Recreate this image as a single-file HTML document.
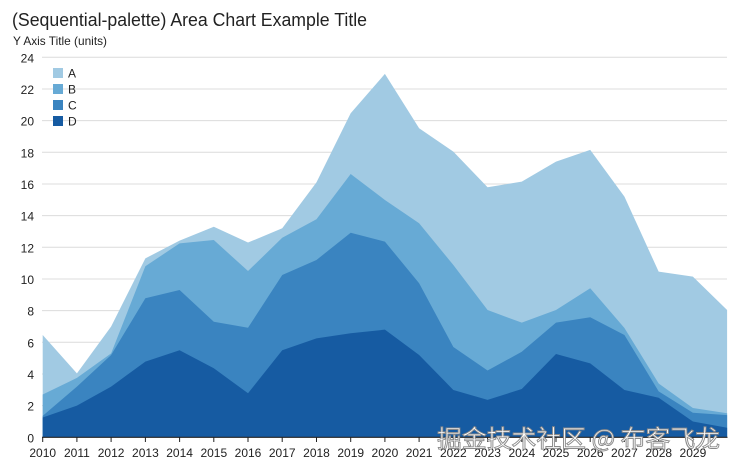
<!DOCTYPE html>
<html><head><meta charset="utf-8"><style>
html,body{margin:0;padding:0;background:#fff;}
svg{display:block;font-family:"Liberation Sans","Noto Sans CJK SC",sans-serif;}
</style></head><body>
<svg width="737" height="469" viewBox="0 0 737 469" xmlns="http://www.w3.org/2000/svg">
<rect width="737" height="469" fill="#fff"/>
<text x="12" y="26" font-size="18" fill="#222" textLength="355" lengthAdjust="spacingAndGlyphs">(Sequential-palette) Area Chart Example Title</text>
<text x="13" y="45" font-size="12" fill="#222" textLength="94" lengthAdjust="spacingAndGlyphs">Y Axis Title (units)</text>
<g stroke="#dcdcdc" stroke-width="1">
<line x1="42" x2="727" y1="57.3" y2="57.3"/>
<line x1="42" x2="727" y1="89" y2="89"/>
<line x1="42" x2="727" y1="120.6" y2="120.6"/>
<line x1="42" x2="727" y1="152.3" y2="152.3"/>
<line x1="42" x2="727" y1="184" y2="184"/>
<line x1="42" x2="727" y1="215.6" y2="215.6"/>
<line x1="42" x2="727" y1="247.3" y2="247.3"/>
<line x1="42" x2="727" y1="279" y2="279"/>
<line x1="42" x2="727" y1="310.6" y2="310.6"/>
<line x1="42" x2="727" y1="342.3" y2="342.3"/>
<line x1="42" x2="727" y1="374" y2="374"/>
<line x1="42" x2="727" y1="405.6" y2="405.6"/>
</g>
<g font-size="12" fill="#222" text-anchor="end">
<text x="34" y="62.3">24</text>
<text x="34" y="94">22</text>
<text x="34" y="125.6">20</text>
<text x="34" y="157.3">18</text>
<text x="34" y="189">16</text>
<text x="34" y="220.6">14</text>
<text x="34" y="252.3">12</text>
<text x="34" y="284">10</text>
<text x="34" y="315.6">8</text>
<text x="34" y="347.3">6</text>
<text x="34" y="379">4</text>
<text x="34" y="410.6">2</text>
<text x="34" y="442.3">0</text>
</g>
<g transform="translate(42.7,437.3) scale(34.22,-15.833)">
<polygon fill="#a1cae3" points="0,0 0,6.46 1,4.04 2,7.0 3,11.3 4,12.42 5,13.3 6,12.3 7,13.2 8,16.1 9,20.47 10,22.95 11,19.52 12,18.04 13,15.79 14,16.15 15,17.41 16,18.15 17,15.2 18,10.46 19,10.15 20,8.04 20,0"/>
<polygon fill="#67aad5" points="0,0 0,2.7 1,3.75 2,5.3 3,10.8 4,12.25 5,12.46 6,10.5 7,12.6 8,13.77 9,16.63 10,14.99 11,13.52 12,10.88 13,8.04 14,7.24 15,8.04 16,9.41 17,6.9 18,3.4 19,1.85 20,1.52 20,0"/>
<polygon fill="#3a84c0" points="0,0 0,1.35 1,3.2 2,5.2 3,8.78 4,9.3 5,7.3 6,6.92 7,10.25 8,11.2 9,12.92 10,12.36 11,9.73 12,5.7 13,4.22 14,5.4 15,7.24 16,7.58 17,6.46 18,2.9 19,1.55 20,1.4 20,0"/>
<polygon fill="#165ba2" points="0,0 0,1.25 1,2.0 2,3.2 3,4.78 4,5.5 5,4.36 6,2.78 7,5.5 8,6.25 9,6.57 10,6.8 11,5.2 12,2.99 13,2.36 14,3.05 15,5.26 16,4.67 17,2.99 18,2.5 19,1.0 20,0.6 20,0"/>
</g>
<line x1="42" x2="727.5" y1="437.3" y2="437.3" stroke="#222" stroke-width="1.2"/>
<g stroke="#222" stroke-width="1">
<line x1="42.7" x2="42.7" y1="437" y2="442"/>
<line x1="76.9" x2="76.9" y1="437" y2="442"/>
<line x1="111.1" x2="111.1" y1="437" y2="442"/>
<line x1="145.4" x2="145.4" y1="437" y2="442"/>
<line x1="179.6" x2="179.6" y1="437" y2="442"/>
<line x1="213.8" x2="213.8" y1="437" y2="442"/>
<line x1="248" x2="248" y1="437" y2="442"/>
<line x1="282.2" x2="282.2" y1="437" y2="442"/>
<line x1="316.5" x2="316.5" y1="437" y2="442"/>
<line x1="350.7" x2="350.7" y1="437" y2="442"/>
<line x1="384.9" x2="384.9" y1="437" y2="442"/>
<line x1="419.1" x2="419.1" y1="437" y2="442"/>
<line x1="453.3" x2="453.3" y1="437" y2="442"/>
<line x1="487.6" x2="487.6" y1="437" y2="442"/>
<line x1="521.8" x2="521.8" y1="437" y2="442"/>
<line x1="556" x2="556" y1="437" y2="442"/>
<line x1="590.2" x2="590.2" y1="437" y2="442"/>
<line x1="624.4" x2="624.4" y1="437" y2="442"/>
<line x1="658.7" x2="658.7" y1="437" y2="442"/>
<line x1="692.9" x2="692.9" y1="437" y2="442"/>
</g>
<g font-size="12" fill="#222" text-anchor="middle">
<text x="42.7" y="457">2010</text>
<text x="76.9" y="457">2011</text>
<text x="111.1" y="457">2012</text>
<text x="145.4" y="457">2013</text>
<text x="179.6" y="457">2014</text>
<text x="213.8" y="457">2015</text>
<text x="248" y="457">2016</text>
<text x="282.2" y="457">2017</text>
<text x="316.5" y="457">2018</text>
<text x="350.7" y="457">2019</text>
<text x="384.9" y="457">2020</text>
<text x="419.1" y="457">2021</text>
<text x="453.3" y="457">2022</text>
<text x="487.6" y="457">2023</text>
<text x="521.8" y="457">2024</text>
<text x="556" y="457">2025</text>
<text x="590.2" y="457">2026</text>
<text x="624.4" y="457">2027</text>
<text x="658.7" y="457">2028</text>
<text x="692.9" y="457">2029</text>
</g>
<g>
<rect x="53" y="68" width="10" height="10" fill="#a1cae3"/>
<rect x="53" y="84" width="10" height="10" fill="#67aad5"/>
<rect x="53" y="100" width="10" height="10" fill="#3a84c0"/>
<rect x="53" y="116" width="10" height="10" fill="#165ba2"/>
</g>
<g font-size="12" fill="#222">
<text x="68" y="77.5">A</text>
<text x="68" y="93.5">B</text>
<text x="68" y="109.5">C</text>
<text x="68" y="125.5">D</text>
</g>
<text x="437" y="447" font-size="24" font-family="'Noto Sans CJK SC','WenQuanYi Zen Hei',sans-serif" fill="#fff" stroke="#8a8a8a" stroke-width="0.9" textLength="283" lengthAdjust="spacingAndGlyphs">掘金技术社区 @ 布客飞龙</text>
</svg>
</body></html>
